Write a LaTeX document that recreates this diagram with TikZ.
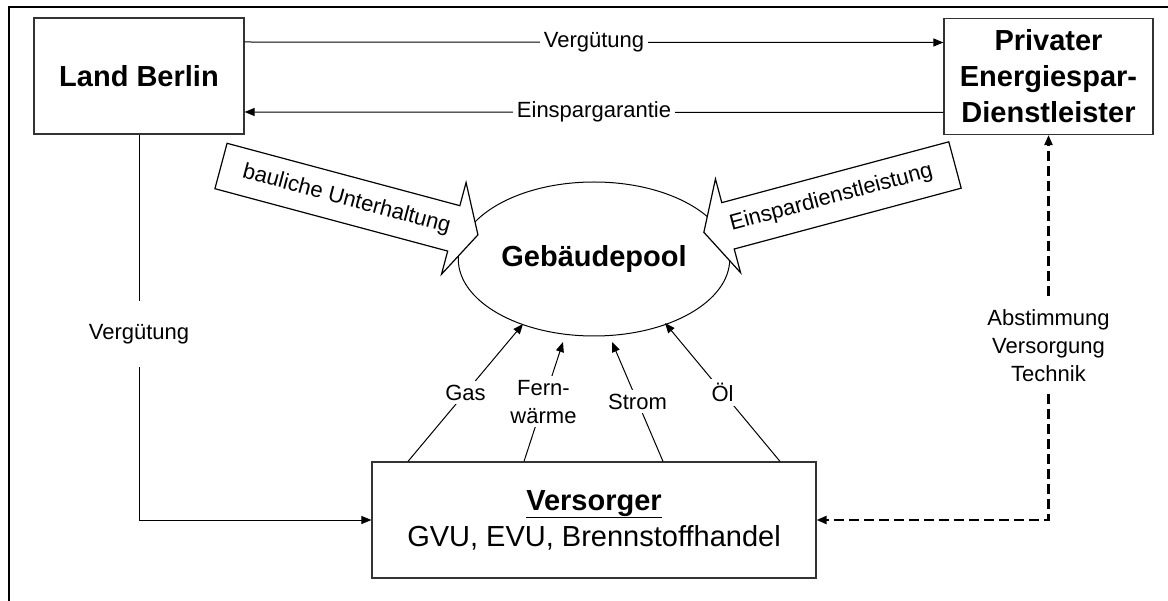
\documentclass[tikz,border=0pt]{standalone}
\usepackage{fontspec}
\setmainfont{Liberation Sans}
\usetikzlibrary{shapes.geometric,arrows.meta,positioning}

\begin{document}
\begin{tikzpicture}[
		x=1pt, y=-1pt,
		box/.style={rectangle, draw=black!80, line width=1.2pt, minimum width=210pt, minimum height=116pt, align=center, font=\fontsize{29}{36}\selectfont\bfseries},
		lbl/.style={font=\fontsize{22}{28}\selectfont, align=center, inner sep=4pt},
		flow/.style={line width=1pt, -{Triangle[length=10pt,width=8pt]}},
		tuning/.style={line width=2.2pt, dash pattern=on 10pt off 5pt},
		bigarrow/.style={draw, line width=1.2pt, fill=white, line join=miter}
	]
	\useasboundingbox (0,0) rectangle (1168,601);
	\draw[line width=2.5pt] (9,601) -- (9,7) -- (1168,7);

	\node[box] (land) at (139,76) {Land Berlin};
	\node[box, minimum width=209pt] (priv) at (1048.5,76.5) {Privater\\Energiespar-\\Dienstleister};
	\node[ellipse, draw, line width=1pt, minimum width=210pt, minimum height=154pt, font=\fontsize{29}{36}\selectfont\bfseries] (pool) at (594,259) {Gebäudepool};
	\node[box, minimum width=444pt, font=\fontsize{29}{36}\selectfont] (vers) at (594,520) {\underline{\textbf{Versorger}}\\GVU, EVU, Brennstoffhandel};

	% Vertrag Land -- Dienstleister
	\draw[flow] ([yshift=34pt]land.east) -- node[lbl, fill=white] {Vergütung} ([yshift=34pt]priv.west);
	\draw[flow] ([yshift=-36pt]priv.west) -- node[lbl, fill=white] {Einspargarantie} ([yshift=-36pt]land.east);

	% Leistungen an den Pool
	\begin{scope}[shift={(221,166)}, rotate=-15]
		\draw[bigarrow] (0,-23.5) -- (241,-23.5) -- (241,-47.5) -- (266,0) -- (241,47.5) -- (241,23.5) -- (0,23.5) -- cycle;
		\node[lbl, rotate=-15] (bau) at (130,0) {bauliche Unterhaltung};
	\end{scope}
	\begin{scope}[shift={(955,165)}, rotate=195]
		\draw[bigarrow] (0,-24) -- (235,-24) -- (235,-48.5) -- (260,0) -- (235,48.5) -- (235,24) -- (0,24) -- cycle;
		\node[lbl, rotate=15] (spar) at (128,0) {Einspardienstleistung};
	\end{scope}

	% Vergütung an die Versorger
	\node[lbl, fill=white, minimum height=66pt, below=166pt of land] (lohn) {Vergütung};
	\draw[line width=1pt] (land) -- (lohn);
	\draw[flow] (lohn.south) |- (vers.west);

	\node[lbl, minimum height=98pt, below=161pt of priv] (abst) {Abstimmung\\Versorgung\\Technik};
	\draw[flow, tuning] (abst) -- (priv);
	\draw[flow, tuning] (abst.south) |- (vers.east);

	% Energietraeger
	\coordinate (gasTip) at ([shift={(-71,65)}]pool.center);
	\coordinate (fernTip) at ([shift={(-31,83)}]pool.center);
	\coordinate (stromTip) at ([shift={(18,83)}]pool.center);
	\coordinate (oelTip) at ([shift={(71,64)}]pool.center);
	\draw[flow] ([xshift=-186pt]vers.north) -- node[lbl, fill=white] {Gas} (gasTip);
	\draw[flow] ([xshift=-70pt]vers.north) -- node[lbl, fill=white] {Fern-\\wärme} (fernTip);
	\draw[flow] ([xshift=69pt]vers.north) -- node[lbl, fill=white] {Strom} (stromTip);
	\draw[flow] ([xshift=186pt]vers.north) -- node[lbl, fill=white] {Öl} (oelTip);
\end{tikzpicture}
\end{document}
